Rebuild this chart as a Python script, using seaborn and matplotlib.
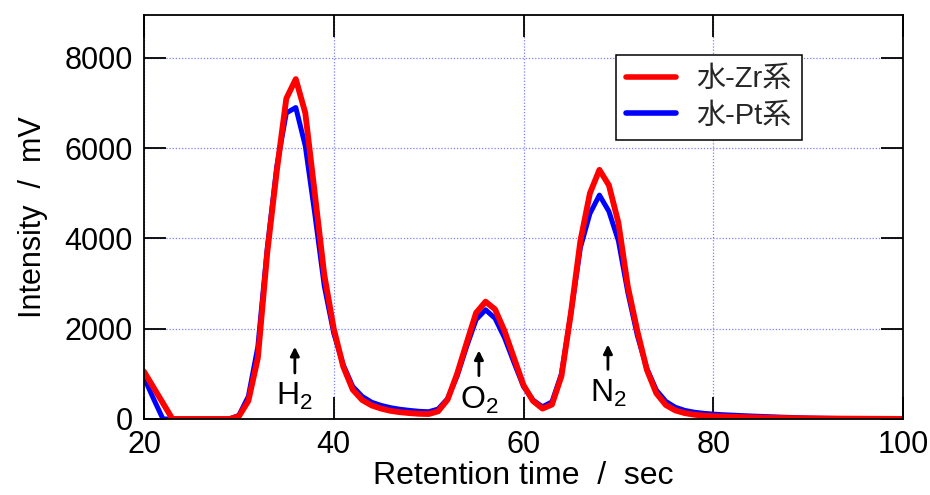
import matplotlib
matplotlib.use("Agg")
import matplotlib.pyplot as plt
import seaborn as sns
import numpy as np
import pandas as pd

# ---- data ----
time_sec = list(range(20, 101))
zr_values = [1050, 700, 350, 0, 0, 0, 0, 0, 0, 0,
             60, 400, 1350, 3700, 5500, 7100, 7530, 6780, 5000, 3200,
             2000, 1160, 650, 420, 300, 230, 180, 150, 130, 115,
             110, 170, 430, 1000, 1680, 2350, 2600, 2430, 1950, 1350,
             750, 400, 230, 320, 950, 2350, 3950, 5000, 5520, 5180,
             4350, 2930, 1950, 1090, 570, 310, 190, 130, 95, 75,
             62, 55, 48, 42, 37, 32, 28, 24, 20, 17,
             14, 12, 10, 9, 8, 7, 6, 5, 4, 3, 2]
pt_values = [920, 450, 0, 0, 0, 0, 0, 0, 0, 0,
             80, 500, 1600, 3800, 5600, 6780, 6900, 6050, 4550, 2950,
             1900, 1200, 720, 500, 370, 300, 250, 215, 190, 170,
             160, 220, 450, 950, 1600, 2200, 2420, 2230, 1800, 1250,
             720, 420, 270, 380, 1000, 2350, 3800, 4550, 4960, 4600,
             3950, 2800, 1850, 1120, 640, 390, 260, 190, 150, 125,
             108, 95, 85, 75, 66, 58, 50, 42, 35, 28,
             22, 18, 15, 12, 10, 8, 6, 5, 4, 3, 2]
series_names = ["水-Zr系", "水-Pt系"]
peak_labels = ["H$_2$", "O$_2$", "N$_2$"]
peak_times = [35.9, 55.3, 68.9]
x_ticks = [20, 40, 60, 80, 100]
y_ticks = [0, 2000, 4000, 6000, 8000]

sns.set_theme(style="ticks")
plt.rcParams["font.family"] = ["Liberation Sans", "Noto Sans CJK JP", "DejaVu Sans"]
plt.rcParams["mathtext.fontset"] = "custom"
plt.rcParams["mathtext.rm"] = "Liberation Sans"
plt.rcParams["mathtext.it"] = "Liberation Sans"
plt.rcParams["mathtext.default"] = "rm"

df = pd.DataFrame({
    "t": time_sec * 2,
    "v": zr_values + pt_values,
    "s": [series_names[0]] * len(time_sec) + [series_names[1]] * len(time_sec),
})

fig = plt.figure(figsize=(9.3, 4.95), dpi=100)
ax = fig.add_axes([144 / 930, 76 / 495, 759 / 930, 404 / 495])

# blue below, red on top
sns.lineplot(data=df[df.s == series_names[1]], x="t", y="v", color="#0000ff",
             lw=3.6, ax=ax, label=series_names[1], zorder=3)
sns.lineplot(data=df[df.s == series_names[0]], x="t", y="v", color="#ff0000",
             lw=4.2, ax=ax, label=series_names[0], zorder=4)

ax.set_xlim(20, 100)
ax.set_ylim(0, 8950)
ax.set_xticks(x_ticks)
ax.set_yticks(y_ticks)
ax.grid(True, color="#7f7fff", linestyle=(0, (1, 1.5)), lw=0.9, zorder=1)
ax.set_axisbelow(False)
for sp in ax.spines.values():
    sp.set_visible(True)
    sp.set_color("black")
    sp.set_linewidth(1.3)
    sp.set_zorder(6)
ax.tick_params(which="major", direction="in", length=16, width=1.3, top=True, right=True,
               color="black", labelcolor="black", labelsize=22, pad=8)
ax.set_xlabel("Retention time  /  sec", fontsize=23, labelpad=1, color="black")
ax.set_ylabel("Intensity  /  mV", fontsize=22, labelpad=12, color="black")

# peak annotations
arrow_lo = [1020, 960, 1100]
arrow_hi = [1600, 1520, 1650]
label_y = [510, 420, 560]
for tx, lab, lo, hi, ly in zip(peak_times, peak_labels, arrow_lo, arrow_hi, label_y):
    ax.annotate("", xy=(tx, hi), xytext=(tx, lo),
                arrowprops=dict(arrowstyle="-|>", color="black", lw=2.0,
                                mutation_scale=13, shrinkA=0, shrinkB=0))
    ax.text(tx, ly, lab, ha="center", va="center", fontsize=23, color="black", zorder=5)

handles, labels = ax.get_legend_handles_labels()
order = [labels.index(series_names[0]), labels.index(series_names[1])]
leg = ax.legend([handles[i] for i in order], [labels[i] for i in order],
                loc="upper right", bbox_to_anchor=(0.867, 0.902), borderaxespad=0,
                fontsize=21, frameon=True, fancybox=False, edgecolor="black", framealpha=1,
                handlelength=1.7, handletextpad=0.7, borderpad=0.35, labelspacing=0.3)
leg.get_frame().set_linewidth(1.1)
leg.set_zorder(7)
for line in leg.get_lines():
    line.set_linewidth(4.0)

fig.savefig("out.png", dpi=100)
